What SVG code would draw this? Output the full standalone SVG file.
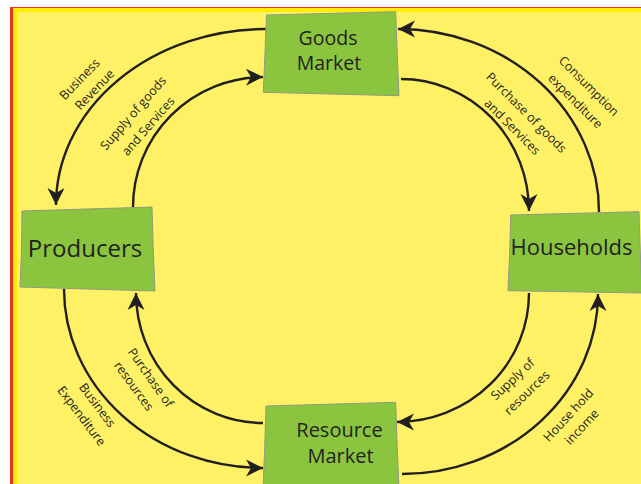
<svg xmlns="http://www.w3.org/2000/svg" width="641" height="484" viewBox="0 0 641 484">
<style>
.node{fill:#8BC53F;stroke:#8f9a80;stroke-width:1}
.nt{font-family:"Open Sans","Liberation Sans",sans-serif;fill:#231F20;text-anchor:middle}
.lbl{font-family:"Open Sans","Liberation Sans",sans-serif;font-size:12.5px;fill:#231F20;text-anchor:middle}
.flow{fill:none;stroke:#231F20;stroke-width:2.4;marker-end:url(#ah)}
</style>
<defs>
<marker id="ah" markerUnits="userSpaceOnUse" orient="auto" overflow="visible" refX="0" refY="0" markerWidth="1" markerHeight="1">
<path d="M0,0 L-17,-8.5 L-12,0 L-17,8.5 Z" fill="#231F20"/>
</marker>
</defs>
<rect x="0" y="0" width="641" height="484" fill="#ffffff"/>
<rect x="10" y="7" width="640" height="490" fill="#EE3124"/>
<rect x="13" y="8" width="640" height="490" fill="#FFED00"/>
<rect x="17" y="12" width="640" height="490" fill="#FFF166"/>

<g id="connectors">
<path class="flow" d="M266,29 A210,176 0 0 0 56,205"/>
<path class="flow" d="M133,207 A131,130 0 0 1 263,77"/>
<path class="flow" d="M599,212 A201,183 0 0 0 398,29"/>
<path class="flow" d="M401,79 A128,132 0 0 1 529,211"/>
<path class="flow" d="M529,293 A132,129 0 0 1 397,422"/>
<path class="flow" d="M402,474 A196,180 0 0 0 598,294"/>
<path class="flow" d="M263,423 A127,130 0 0 1 136,293"/>
<path class="flow" d="M64,289 A199,179 0 0 0 263,468"/>
</g>

<g id="labels">
<text class="lbl" transform="translate(79.5,79) rotate(-46)" y="4.5">Business</text>
<text class="lbl" transform="translate(94.5,89.5) rotate(-46)" y="4.5">Revenue</text>
<text class="lbl" transform="translate(133,113) rotate(-49)" y="4.5">Supply of goods</text>
<text class="lbl" transform="translate(148,126) rotate(-49)" y="4.5">and Services</text>
<text class="lbl" transform="translate(589,86) rotate(45)" y="4.5">Consumption</text>
<text class="lbl" transform="translate(575.5,101) rotate(45)" y="4.5">expenditure</text>
<text class="lbl" transform="translate(526.5,112.5) rotate(45)" y="4.5">Purchase of goods</text>
<text class="lbl" transform="translate(512.5,126.7) rotate(45)" y="4.5">and Services</text>
<text class="lbl" transform="translate(150.8,377.5) rotate(55)" y="4.5">Purchase of</text>
<text class="lbl" transform="translate(134,386) rotate(54)" y="4.5">resources</text>
<text class="lbl" transform="translate(97.5,405) rotate(53)" y="4.5">Business</text>
<text class="lbl" transform="translate(81.7,415.8) rotate(53)" y="4.5">Expenditure</text>
<text class="lbl" transform="translate(512.5,379) rotate(-43)" y="4.5">Supply of</text>
<text class="lbl" transform="translate(526.7,392.5) rotate(-44)" y="4.5">resources</text>
<text class="lbl" transform="translate(568.3,415) rotate(-47)" y="4.5">House hold</text>
<text class="lbl" transform="translate(581.7,426.7) rotate(-47)" y="4.5">income</text>
</g>

<g id="goods-market">
<path class="node" d="M266.5,15 L395.7,11.7 Q397,50 399,95.7 L263.3,92.3 Q265,55 266.5,15 Z"/>
<text class="nt" x="328" y="45" font-size="19.5">Goods</text>
<text class="nt" x="329" y="70" font-size="19.5">Market</text>
</g>

<g id="producers">
<path class="node" d="M22,211 L152,207 Q153,250 155,291 L20,287 Q22,250 22,211 Z"/>
<text class="nt" x="85" y="257" font-size="24">Producers</text>
</g>

<g id="households">
<path class="node" d="M510.7,215 L639,211.7 Q640,250 642,293 L508,290.7 Q510,252 510.7,215 Z"/>
<text class="nt" x="571.5" y="255" font-size="22">Households</text>
</g>

<g id="resource-market">
<path class="node" d="M266,406 L395.7,402.3 Q397,445 399,490 L263,490 Q265,445 266,406 Z"/>
<text class="nt" x="339.5" y="436.7" font-size="20">Resource</text>
<text class="nt" x="340.5" y="463.3" font-size="20">Market</text>
</g>
</svg>
